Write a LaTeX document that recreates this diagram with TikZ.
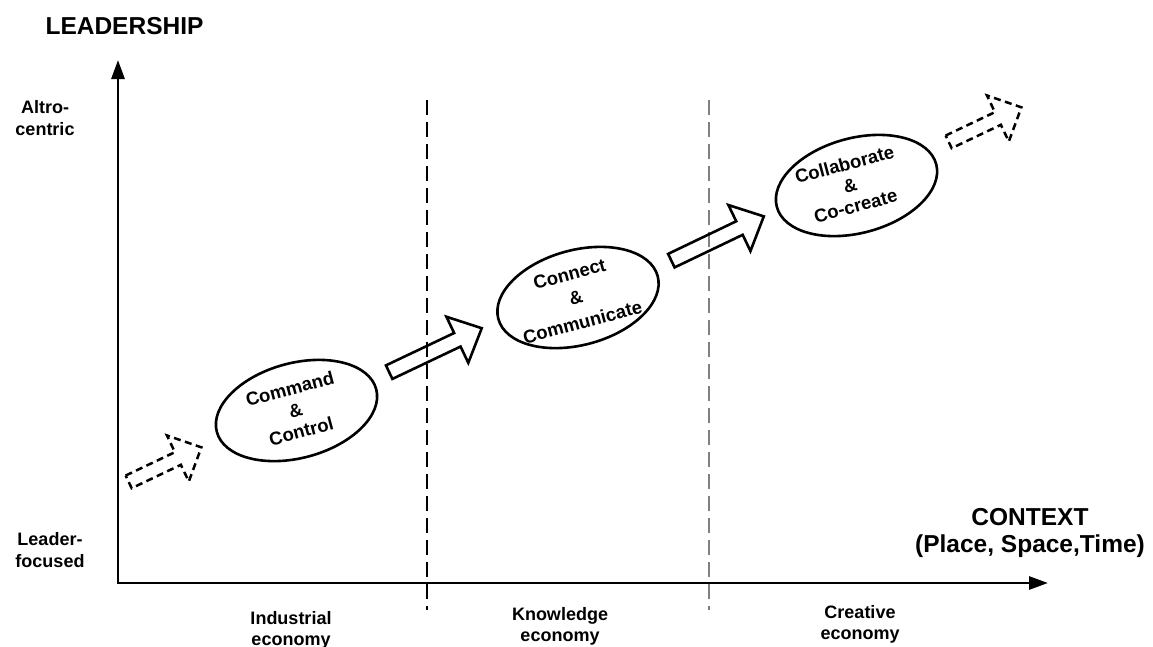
\documentclass[tikz,border=0pt]{standalone}
\usepackage{fontspec}
\setmainfont{Liberation Sans}
\usetikzlibrary{arrows.meta,shapes.geometric}
\begin{document}
\begin{tikzpicture}[x=1pt,y=1pt,
  big/.style={font=\bfseries\fontsize{24.5}{27}\selectfont, align=center, inner sep=0pt},
  lbl/.style={font=\bfseries\fontsize{18}{22}\selectfont, align=center, inner sep=0pt},
  eco/.style={font=\bfseries\fontsize{18}{21}\selectfont, align=center, inner sep=0pt, anchor=north},
  bubble/.style={draw, ellipse, line width=2.6pt, minimum width=165pt, minimum height=95pt, inner sep=0pt, rotate=15},
  bubtext/.style={font=\bfseries\fontsize{18.5}{#1}\selectfont, align=center, inner sep=0pt, rotate=15},
  axisline/.style={line width=2.8pt, line join=miter, {Triangle[length=19pt,width=13pt]}-{Triangle[length=19pt,width=13pt]}},
  divider/.style={line width=1.3pt, dash pattern=on 15pt off 7pt},
  pics/solidarrow/.style={code={\draw[line width=2.6pt, line join=miter]
     (1.5,7.5)--(77,7.5)--(77,25.5)--(104,0)--(77,-25.5)--(77,-7.5)--(1.5,-7.5)--cycle;}},
  pics/dasharrow/.style={code={\draw[line width=2.5pt, line join=miter, dash pattern=on 7pt off 4.5pt]
     (1.5,7)--(56,7)--(56,25.5)--(82,0)--(56,-25.5)--(56,-7)--(1.5,-7)--cycle;}}
]
\useasboundingbox (0,0) rectangle (1153,-646);
\fill[white] (0,0) rectangle (1153,-646);

% dividers
\coordinate (d1top) at (427,-100);
\coordinate (d1bot) at (427,-610);
\coordinate (d2top) at (709,-100);
\coordinate (d2bot) at (709,-610);
\draw[divider] (d1top) -- (d1bot);
\draw[divider, gray] (d2top) -- (d2bot);

% axes
\coordinate (ytop) at (118,-60);
\coordinate (origin) at (118,-583);
\coordinate (xend) at (1048,-583);
\draw[axisline] (ytop) -- (origin) -- (xend);

% axis labels
\node[big] (leadership) at (124.5,-26.5) {LEADERSHIP};
\node[big] (context) at (1030,-533) {CONTEXT\\(Place, Space,Time)};
\node[lbl] (altro) at (45,-118.5) {Altro-\\centric};
\node[lbl] (leader) at (50,-550.5) {Leader-\\focused};
\node[eco] (ind) at (291,-611) {Industrial\\economy};
\node[eco] (know) at (560,-607) {Knowledge\\economy};
\node[eco] (crea) at (860,-605) {Creative\\economy};

% bubbles
\node[bubble] (cmd) at (296.5,-410.5) {};
\node[bubtext=22] (cmdtext) at (295.5,-410) {Command\\\&\\Control};
\node[bubble] (conn) at (578,-297.5) {};
\node[bubtext=25] (conntext) at (576,-298) {Connect\\\&\\Communicate};
\node[bubble] (coll) at (856.5,-185.5) {};
\node[bubtext=21.5] (colltext) at (850,-185) {Collaborate\\\&\\Co-create};

% block arrows
\pic[rotate=25.4] (da1) at (127.3,-482.5) {dasharrow};
\pic[rotate=25.4] (sa1) at (387.8,-372.8) {solidarrow};
\pic[rotate=25.6] (sa2) at (670,-261.3) {solidarrow};
\pic[rotate=25.4] (da2) at (947.3,-142.5) {dasharrow};
\end{tikzpicture}
\end{document}
